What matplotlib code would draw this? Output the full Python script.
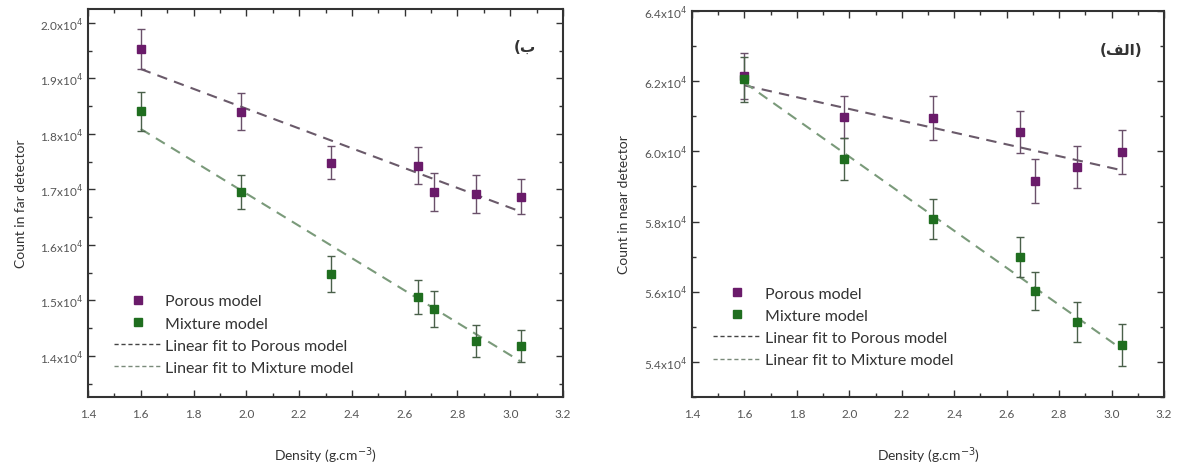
import matplotlib
matplotlib.use("Agg")
import matplotlib.pyplot as plt
from matplotlib.ticker import MultipleLocator, FuncFormatter
from matplotlib.lines import Line2D

plt.rcParams['font.family'] = ['Lato', 'DejaVu Sans']

# densities (g/cm3)
density = [1.60, 1.98, 2.32, 2.65, 2.71, 2.87, 3.04]
fit_x = [1.60, 3.04]

# far detector counts, in units of 10^4
far_porous = [1.953, 1.840, 1.748, 1.743, 1.696, 1.692, 1.687]
far_porous_err = [0.036, 0.033, 0.030, 0.034, 0.034, 0.034, 0.032]
far_mixture = [1.841, 1.695, 1.548, 1.506, 1.485, 1.427, 1.418]
far_mixture_err = [0.035, 0.031, 0.032, 0.030, 0.032, 0.029, 0.029]
far_porous_fit = [1.917, 1.660]
far_mixture_fit = [1.809, 1.390]

# near detector counts, in units of 10^4
near_porous = [6.215, 6.098, 6.095, 6.055, 5.915, 5.955, 5.998]
near_porous_err = [0.065, 0.060, 0.062, 0.060, 0.063, 0.060, 0.062]
near_mixture = [6.205, 5.978, 5.807, 5.699, 5.602, 5.515, 5.449]
near_mixture_err = [0.065, 0.060, 0.058, 0.057, 0.055, 0.057, 0.060]
near_porous_fit = [6.188, 5.946]
near_mixture_fit = [6.196, 5.436]

purple = '#6a1b6a'
green = '#1f6e1f'
fit_porous_col = '#6a5a6a'
fit_mixture_col = '#7a9a7a'
spine_col = '#333333'


def draw_panel(ax, porous, porous_err, mixture, mixture_err, pfit, mfit,
               ylim, ymajor, yminor, ylabel, tag, legend_pos):
    ax.plot(fit_x, pfit, ls=(0, (5, 3.5)), color=fit_porous_col, lw=1.5, zorder=2)
    ax.plot(fit_x, mfit, ls=(0, (5, 3.5)), color=fit_mixture_col, lw=1.5, zorder=2)
    ax.errorbar(density, porous, yerr=porous_err, fmt='s', color=purple,
                ecolor='#6a506a', elinewidth=1, capsize=3, capthick=1, ms=5.5, zorder=3)
    ax.errorbar(density, mixture, yerr=mixture_err, fmt='s', color=green,
                ecolor='#4a604a', elinewidth=1, capsize=3, capthick=1, ms=5.5, zorder=3)

    ax.set_xlim(1.4, 3.2)
    ax.set_ylim(*ylim)
    ax.xaxis.set_major_locator(MultipleLocator(0.2))
    ax.xaxis.set_minor_locator(MultipleLocator(0.1))
    ax.yaxis.set_major_locator(MultipleLocator(ymajor))
    ax.yaxis.set_minor_locator(MultipleLocator(yminor))
    ax.xaxis.set_major_formatter(FuncFormatter(lambda v, p: f"{v:.1f}"))
    ax.yaxis.set_major_formatter(FuncFormatter(lambda v, p: f"{v:.1f}x10$^4$"))
    ax.tick_params(which='both', direction='in', top=True, right=True,
                   color=spine_col, labelcolor='#555555', labelsize=8.5)
    ax.tick_params(which='major', length=5, width=1)
    ax.tick_params(which='minor', length=3, width=1)
    ax.tick_params(axis='x', pad=8)
    for s in ax.spines.values():
        s.set_color(spine_col)
        s.set_linewidth(1.5)

    ax.set_xlabel('Density (g.cm$^{-3}$)', fontsize=10, color='#333333', labelpad=18)
    ax.set_ylabel(ylabel, fontsize=10, color='#333333', labelpad=10)
    ax.text(tag[0], tag[1], tag[2], transform=ax.transAxes, ha='center', va='center',
            fontsize=11, fontweight='bold', color='#333333', family=['DejaVu Sans'])

    handles = [
        Line2D([], [], ls='none', marker='s', color=purple, ms=5.5),
        Line2D([], [], ls='none', marker='s', color=green, ms=5.5),
        Line2D([], [], ls=(0, (3, 2)), color='#444444', lw=1),
        Line2D([], [], ls=(0, (3, 2)), color='#7a8a7a', lw=1),
    ]
    labels = ['Porous model', 'Mixture model',
              'Linear fit to Porous model', 'Linear fit to Mixture model']
    ax.legend(handles, labels, loc='lower left', bbox_to_anchor=legend_pos,
              frameon=False, fontsize=11.5, handlelength=3.0, labelspacing=0.5,
              handletextpad=0.2, labelcolor='#333333')


fig = plt.figure(figsize=(11.8, 4.64), dpi=100)
ax1 = fig.add_axes([0.0746, 0.1422, 0.4025, 0.836])
ax2 = fig.add_axes([0.5864, 0.1422, 0.4000, 0.832])

draw_panel(ax1, far_porous, far_porous_err, far_mixture, far_mixture_err,
           far_porous_fit, far_mixture_fit, (1.326, 2.025), 0.1, 0.05,
           'Count in far detector', (0.92, 0.905, '(\ufe8f'), (0.025, 0.02))
draw_panel(ax2, near_porous, near_porous_err, near_mixture, near_mixture_err,
           near_porous_fit, near_mixture_fit, (5.30, 6.40), 0.2, 0.1,
           'Count in near detector', (0.91, 0.90, '(\ufed2\ufedf\ufe8d)'), (0.015, 0.04))

fig.savefig('out.png', dpi=100)
